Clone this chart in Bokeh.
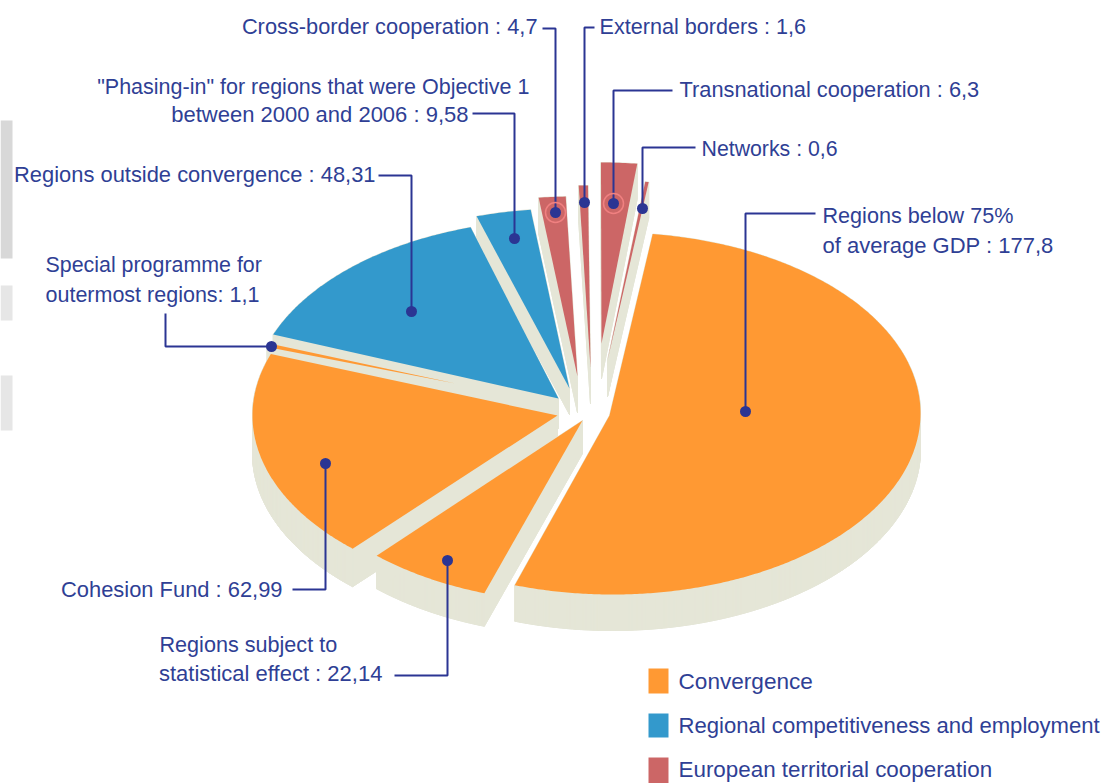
import numpy as np
from bokeh.plotting import figure
from bokeh.models import Range1d
from bokeh.core.properties import value
from bokeh.embed import file_html
from bokeh.resources import INLINE

# ---- data ----
names = ["Regions below 75% of average GDP", "Regions subject to statistical effect", "Cohesion Fund",
         "Special programme for outermost regions", "Regions outside convergence", "Phasing-in",
         "Cross-border cooperation", "External borders", "Transnational cooperation", "Networks"]
values = [177.8, 22.14, 62.99, 1.1, 48.31, 9.58, 4.7, 1.6, 6.3, 0.6]
groups = ["Convergence", "Convergence", "Convergence", "Convergence",
          "Regional competitiveness and employment", "Regional competitiveness and employment",
          "European territorial cooperation", "European territorial cooperation",
          "European territorial cooperation", "European territorial cooperation"]
legend_labels = ["Convergence", "Regional competitiveness and employment", "European territorial cooperation"]

# ---- style / layout ----
colors = {"Convergence": "#FF9933", "Regional competitiveness and employment": "#3399CC",
          "European territorial cooperation": "#CC6666"}
WALL = "#E5E6D7"
INK = "#2F3F95"
LINE = "#2B3593"
FONT = "Liberation Sans"
START = 7.5
RXS = [308, 303, 306, 308, 308, 308, 308, 308, 308, 308]
RYS = [181, 180, 180, 180, 180, 180, 180, 180, 180, 180]
apex = [(609, 415), (582, 420), (557, 415), (455, 383), (558, 398), (569, 388), (577, 376), (590, 367), (601, 343), (607, 360)]
arc_c = [(612, 413), (580, 422), (558, 415), (556, 408), (560, 399), (566, 388), (574, 376), (587, 365), (600, 342), (608, 360)]
depth = [36, 33, 38, 30, 30, 26, 36, 36, 35, 36]
draw_order = [9, 8, 7, 6, 5, 4, 3, 2, 1, 0]

W, H = 1111, 783
p = figure(width=W, height=H, output_backend="svg", toolbar_location=None,
           x_range=Range1d(0, W), y_range=Range1d(H, 0), min_border=0)
p.xaxis.visible = False
p.yaxis.visible = False
p.grid.visible = False
p.outline_line_color = None

# faint scrap of the page's background picture on the left edge
p.quad(left=[0, 0, 0], right=[12, 12, 12], top=[120, 285, 375], bottom=[258, 320, 430],
       fill_color=["#D8D8D8", "#E6E6E6", "#E6E6E6"], line_color=None)

angles = np.array(values) / sum(values) * 360.0
t0 = START + np.concatenate([[0], np.cumsum(angles)[:-1]])

for i in draw_order:
    ts = np.radians(np.linspace(t0[i], t0[i] + angles[i], max(3, int(angles[i] * 2))))
    ax, ay = apex[i]
    cx, cy = arc_c[i]
    xs = np.concatenate([[ax], cx + RXS[i] * np.sin(ts)])
    ys = np.concatenate([[ay], cy - RYS[i] * np.cos(ts)])
    d = depth[i]
    qx = [list(xs)]
    qy = [list(ys + d)]
    n = len(xs)
    for k in range(n):
        m = (k + 1) % n
        qx.append([xs[k], xs[m], xs[m], xs[k]])
        qy.append([ys[k], ys[m], ys[m] + d, ys[k] + d])
    p.patches(qx, qy, fill_color=WALL, line_color=WALL, line_width=1)
    p.patch(xs, ys, fill_color=colors[groups[i]], line_color=None)

# leader lines
leaders = [
    ([542, 555, 555], [28, 28, 212]),
    ([594, 584, 584], [27, 27, 202]),
    ([672, 613, 613], [90, 90, 203]),
    ([695, 642, 642], [147, 147, 208]),
    ([815, 745, 745], [213, 213, 411]),
    ([472, 514, 514], [113, 113, 238]),
    ([378, 411, 411], [175, 175, 311]),
    ([165, 165, 271], [313, 346, 346]),
    ([292, 325, 325], [589, 589, 463]),
    ([394, 447, 447], [675, 675, 560]),
]
for lx, ly in leaders:
    p.line(lx, ly, line_color=LINE, line_width=2)

p.scatter([555, 613], [212, 203], size=20, fill_color=None, line_color="#F08080", line_width=1.5)
p.scatter([l[0][2] for l in leaders], [l[1][2] for l in leaders], size=11, fill_color=LINE, line_color=None)

# labels
labels_right = [
    ("Cross-border cooperation : 4,7", 537, 26, 21.8),
    ("\"Phasing-in\" for regions that were Objective 1", 529, 86, 21.5),
    ("between 2000 and 2006 : 9,58", 468, 114, 22),
    ("Regions outside convergence : 48,31", 375, 174, 21.9),
    ("Cohesion Fund : 62,99", 282, 589, 21.9),
    ("statistical effect  : 22,14", 388, 673, 22),
]
labels_left = [
    ("External borders : 1,6", 599, 26, 21.6),
    ("Transnational cooperation : 6,3", 679, 89, 21.8),
    ("Networks : 0,6", 701, 148, 21.3),
    ("Regions below 75%", 822, 215, 21.6),
    ("of average GDP : 177,8", 822, 245, 22),
    ("Special programme for", 45, 264, 21.4),
    ("outermost regions: 1,1", 45, 294, 21.5),
    ("Regions subject to", 159, 644, 21.6),
]
for rows, al in ((labels_right, "right"), (labels_left, "left")):
    for txt, x, y, fs in rows:
        p.text([x], [y], text=[txt], text_align=al, text_baseline="middle", text_color=INK,
               text_font=value(FONT), text_font_size=f"{fs}px")

# legend
leg_y = [681, 725, 769]
leg_fs = [22.6, 22.1, 22.4]
p.quad(left=[648] * 3, right=[668] * 3, top=[668, 713, 757], bottom=[693, 737, 783],
       fill_color=[colors[g] for g in legend_labels], line_color=None)
for y, fs, txt in zip(leg_y, leg_fs, legend_labels):
    p.text([678], [y], text=[txt], text_align="left", text_baseline="middle", text_color=INK,
           text_font=value(FONT), text_font_size=f"{fs}px")

open("out.html", "w").write(file_html(p, INLINE))
